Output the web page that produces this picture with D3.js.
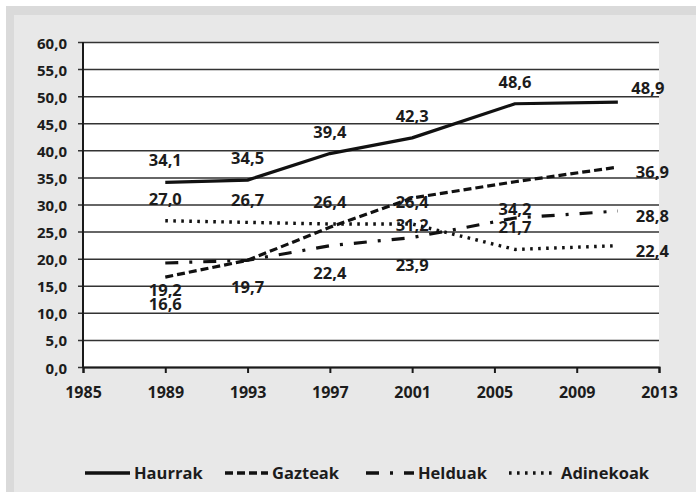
<!DOCTYPE html>
<html>
<head>
<meta charset="utf-8">
<script src="https://cdn.jsdelivr.net/npm/d3@7"></script>
<style>
  body { margin: 0; background: #fff; }
  svg { display: block; }
  text { font-family: "Open Sans", "DejaVu Sans", sans-serif; fill: #1c1c1c; }
</style>
</head>
<body>
<svg id="chart" width="696" height="495"></svg>
<script>
// Survey years and the share for each age group (%)
const years = [1989, 1993, 1997, 2001, 2006, 2011];
const haurrak = [34.1, 34.5, 39.4, 42.3, 48.6, 48.9];
const gazteak = [16.6, 19.7, 25.8, 31.2, 34.2, 36.9];
const helduak = [19.2, 19.7, 22.4, 23.9, 27.5, 28.8];
const adinekoak = [27.0, 26.7, 26.4, 26.4, 21.7, 22.4];
const seriesNames = ["Haurrak", "Gazteak", "Helduak", "Adinekoak"];
const xTickValues = [1985, 1989, 1993, 1997, 2001, 2005, 2009, 2013];
const yTickValues = [0, 5, 10, 15, 20, 25, 30, 35, 40, 45, 50, 55, 60];
// Years whose value label is left off, per series (1993 Helduak shares its label with Gazteak)
const unlabelled = { Gazteak: [1997], Helduak: [1993, 2006] };

const series = [
  { name: seriesNames[0], values: haurrak,   dash: null,         label: "above", last: "aboveRight" },
  { name: seriesNames[1], values: gazteak,   dash: "8,4",        label: "below", last: "right" },
  { name: seriesNames[2], values: helduak,   dash: "13,11,3,11", label: "below", last: "right" },
  { name: seriesNames[3], values: adinekoak, dash: "2.6,5.4",    label: "above", last: "right" }
];

const locale = d3.formatLocale({ decimal: ",", thousands: ".", grouping: [3], currency: ["", "€"] });
const fmt = locale.format(".1f");

const svg = d3.select("#chart");
const W = 696, H = 495;
const plot = { left: 83, right: 659, top: 42, bottom: 367 };

// Frame: thin white margin, darker band on top/left, light grey panel
svg.append("rect").attr("width", W).attr("height", H).attr("fill", "#ffffff");
svg.append("rect").attr("x", 6).attr("y", 6).attr("width", W - 6).attr("height", H - 9).attr("fill", "#dadada");
svg.append("rect").attr("x", 14).attr("y", 15).attr("width", W - 14).attr("height", H - 18).attr("fill", "#e8e8e8");
svg.append("rect")
  .attr("x", plot.left).attr("y", plot.top)
  .attr("width", plot.right - plot.left).attr("height", plot.bottom - plot.top)
  .attr("fill", "#ffffff");

const x = d3.scaleLinear().domain([1985, 2013]).range([plot.left, plot.right]);
const y = d3.scaleLinear().domain([0, 60]).range([plot.bottom, plot.top]);

// Horizontal gridlines with the value labels on the left
const yAxis = svg.append("g")
  .attr("transform", `translate(${plot.right},0)`)
  .call(d3.axisLeft(y).tickValues(yTickValues).tickFormat(fmt)
        .tickSize(plot.right - plot.left + 5).tickPadding(11));
yAxis.select(".domain").remove();
yAxis.selectAll(".tick line").attr("stroke", "#333").attr("stroke-width", 1.5);
yAxis.selectAll(".tick text")
  .attr("font-size", 15).attr("font-weight", 700).attr("fill", "#1c1c1c")
  .attr("font-family", "'Open Sans', sans-serif").attr("dy", "0.4em");

// Vertical axis line
svg.append("line")
  .attr("x1", plot.left).attr("x2", plot.left)
  .attr("y1", plot.top).attr("y2", plot.bottom + 1)
  .attr("stroke", "#1a1a1a").attr("stroke-width", 2);

// Year axis
const xAxis = svg.append("g")
  .attr("transform", `translate(0,${plot.bottom})`)
  .call(d3.axisBottom(x).tickValues(xTickValues).tickFormat(d3.format("d"))
        .tickSize(6).tickPadding(14));
xAxis.select(".domain").attr("stroke", "#1a1a1a").attr("stroke-width", 2);
xAxis.selectAll(".tick line").attr("stroke", "#1a1a1a").attr("stroke-width", 2);
xAxis.selectAll(".tick text")
  .attr("font-size", 16).attr("font-weight", 700).attr("fill", "#1c1c1c")
  .attr("font-family", "'Open Sans', sans-serif").attr("dy", "0.71em");

// Lines
const line = d3.line().x((d, i) => x(years[i])).y(d => y(d));
series.forEach(s => {
  svg.append("path")
    .datum(s.values)
    .attr("d", line)
    .attr("fill", "none")
    .attr("stroke", "#111")
    .attr("stroke-width", s.name === "Adinekoak" ? 3.4 : 3.2)
    .attr("stroke-linejoin", "round")
    .attr("stroke-dasharray", s.dash);
});

// Value labels
const placement = {
  above:      { dx: 0,  dy: -16, anchor: "middle" },
  below:      { dx: 0,  dy: 33,  anchor: "middle" },
  right:      { dx: 18, dy: 11,  anchor: "start" },
  aboveRight: { dx: 30, dy: -8,  anchor: "middle" }
};
series.forEach(s => {
  const skip = unlabelled[s.name] || [];
  s.values.forEach((v, i) => {
    if (skip.includes(years[i])) return;
    const p = placement[i === s.values.length - 1 ? s.last : s.label];
    svg.append("text")
      .attr("x", x(years[i]) + p.dx)
      .attr("y", y(v) + p.dy)
      .attr("text-anchor", p.anchor)
      .attr("font-size", 16.5)
      .attr("font-weight", 700)
      .attr("fill", "#222")
      .text(fmt(v));
  });
});

// Legend
const legendY = 473;
const legendItems = [
  { x1: 85,  x2: 130 },
  { x1: 225, x2: 268 },
  { x1: 366, x2: 414 },
  { x1: 509, x2: 554 }
];
series.forEach((s, i) => {
  const li = legendItems[i];
  svg.append("line")
    .attr("x1", li.x1).attr("x2", li.x2)
    .attr("y1", legendY).attr("y2", legendY)
    .attr("stroke", "#111").attr("stroke-width", 3.4)
    .attr("stroke-dasharray", s.dash);
  svg.append("text")
    .attr("x", li.x2 + (i === 3 ? 7 : 4))
    .attr("y", legendY + 6)
    .attr("font-size", 16.5)
    .attr("font-weight", 700)
    .text(s.name);
});
</script>
</body>
</html>
